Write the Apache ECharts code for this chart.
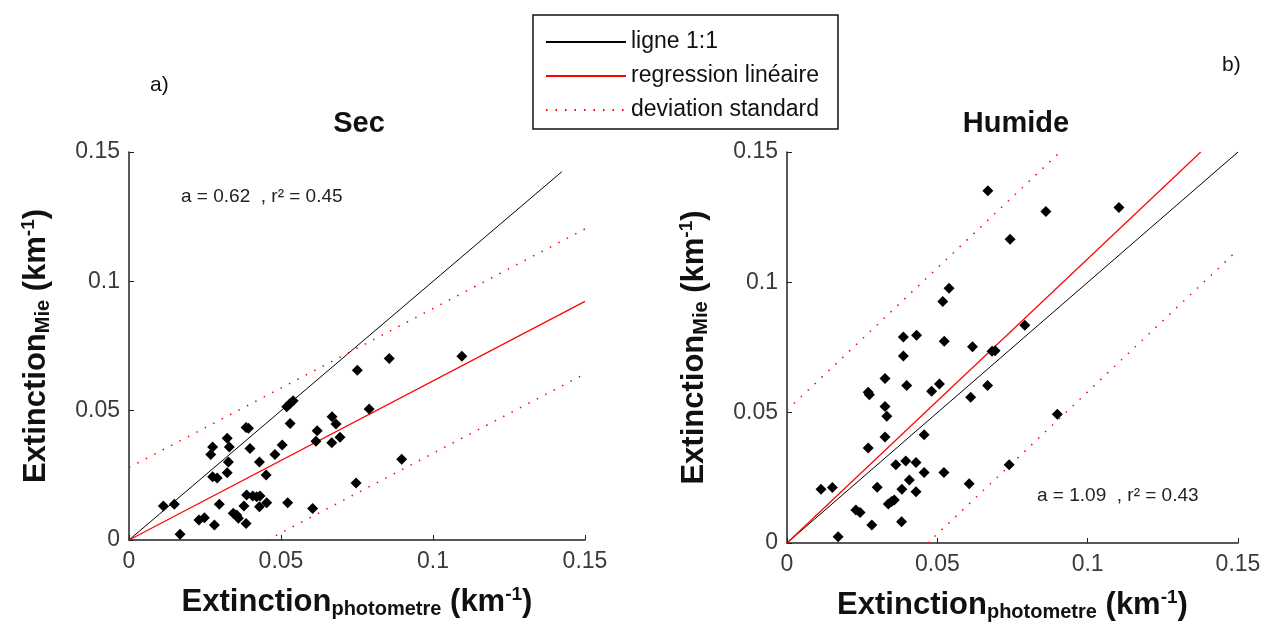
<!doctype html>
<html>
<head>
<meta charset="utf-8">
<title>Extinction Mie vs photometre</title>
<style>
  html, body { margin: 0; width: 100%; height: 100%; background: #fff; }
  #chart { width: 1264px; height: 632px; }
</style>
</head>
<body>
<div id="chart"></div>
<script src="https://cdn.jsdelivr.net/npm/echarts@6/dist/echarts.min.js"></script>
<script>
// donnees
var secX = [0.0113,0.0149,0.0168,0.023,0.0248,0.0281,0.0297,0.0275,0.0269,0.0275,0.029,0.0323,0.033,0.0327,0.0323,0.0385,0.0393,0.0398,0.0429,0.0451,0.048,0.0504,0.053,0.0519,0.053,0.054,0.0343,0.0354,0.036,0.0385,0.0378,0.0387,0.0407,0.042,0.0429,0.0431,0.0453,0.0522,0.0604,0.0615,0.0856,0.0751,0.079,0.0668,0.0681,0.0619,0.0667,0.0694,0.0897,0.0747,0.1095];
var secY = [0.0131,0.0138,0.0022,0.0077,0.0086,0.0058,0.0138,0.036,0.0331,0.0245,0.024,0.0393,0.036,0.0302,0.026,0.0435,0.0432,0.0354,0.0302,0.0251,0.0331,0.0367,0.045,0.0515,0.0528,0.0538,0.0103,0.0097,0.0084,0.0064,0.0131,0.0174,0.017,0.0167,0.0129,0.017,0.0144,0.0144,0.0122,0.0382,0.0702,0.0656,0.0506,0.0476,0.0448,0.0422,0.0376,0.0397,0.0312,0.022,0.071];
var humX = [0.0668,0.0539,0.0518,0.0387,0.0431,0.0523,0.0617,0.0682,0.0692,0.0387,0.0742,0.0861,0.1104,0.0791,0.0899,0.0326,0.0398,0.027,0.0274,0.0481,0.0507,0.0667,0.0611,0.0326,0.0332,0.0326,0.0456,0.027,0.0362,0.0395,0.0429,0.0456,0.0522,0.0407,0.03,0.0382,0.0429,0.0113,0.0151,0.0337,0.0348,0.0357,0.0229,0.0243,0.0282,0.0381,0.017,0.0606,0.0739];
var humY = [0.1351,0.0977,0.0926,0.079,0.0797,0.0774,0.0753,0.0736,0.0738,0.0717,0.1165,0.1272,0.1287,0.0835,0.0494,0.0631,0.0604,0.0578,0.0569,0.0582,0.061,0.0604,0.0559,0.0524,0.0486,0.0407,0.0415,0.0364,0.03,0.0315,0.0309,0.027,0.027,0.0242,0.0214,0.0206,0.0197,0.0206,0.0213,0.015,0.0159,0.0165,0.0127,0.0117,0.0069,0.0082,0.0024,0.0227,0.03];

// droites: pente / ordonnee a l'origine / ecart
var secFit = { a: 0.615, b: 0, sd: 0.028, oneEnd: 0.1424 };
var humFit = { a: 1.09, b: 0, sd: 0.051, oneEnd: 0.15 };

var MAX = 0.15;

function pairs(xs, ys) {
  return xs.map(function (x, i) { return [x, ys[i]]; });
}
// segment y = a*x + b coupe dans le carre [0, MAX]
function seg(a, b) {
  var x0 = Math.max(0, -b / a), x1 = Math.min(MAX, (MAX - b) / a);
  return [[x0, a * x0 + b], [x1, a * x1 + b]];
}

var tickFont = { fontFamily: 'Liberation Sans', fontSize: 23, color: '#3a3a3a' };
var nameRich = {
  b: { fontFamily: 'Liberation Sans', fontSize: 31, fontWeight: 'bold', color: '#111', lineHeight: 34, verticalAlign: 'middle' },
  s: { fontFamily: 'Liberation Sans', fontSize: 20, fontWeight: 'bold', color: '#111', lineHeight: 20, verticalAlign: 'bottom' },
  p: { fontFamily: 'Liberation Sans', fontSize: 19, fontWeight: 'bold', color: '#111', lineHeight: 20, verticalAlign: 'top' }
};

function xAxis(i) {
  return {
    type: 'value', gridIndex: i, min: 0, max: MAX, interval: 0.05,
    name: '{b|Extinction}{s|photometre}{b| (km}{p|-1}{b|)}',
    nameLocation: 'middle', nameGap: 45,
    nameTextStyle: { rich: nameRich, lineHeight: 54 },
    axisLine: { show: true, onZero: false, lineStyle: { color: '#222', width: 1.5 } },
    axisTick: { inside: true, length: 5, lineStyle: { color: '#222' } },
    axisLabel: Object.assign({ margin: 10 }, tickFont),
    splitLine: { show: false }
  };
}
function yAxis(i) {
  return {
    type: 'value', gridIndex: i, min: 0, max: MAX, interval: 0.05,
    name: '{b|Extinction}{s|Mie}{b| (km}{p|-1}{b|)}',
    nameLocation: 'middle', nameGap: 76,
    nameTextStyle: { rich: nameRich, lineHeight: 54 },
    axisLine: { show: true, onZero: false, lineStyle: { color: '#222', width: 1.5 } },
    axisTick: { inside: true, length: 5, lineStyle: { color: '#222' } },
    axisLabel: Object.assign({ margin: 9 }, tickFont),
    splitLine: { show: false }
  };
}

var dotted = { color: '#ff0000', width: 1.5, type: [1.5, 8] };
function linesFor(i, fit) {
  return [
    { name: 'ligne 1:1', type: 'line', xAxisIndex: i, yAxisIndex: i, symbol: 'none', silent: true,
      itemStyle: { color: '#000' }, lineStyle: { color: '#000', width: 1 }, data: [[0, 0], [fit.oneEnd, fit.oneEnd]] },
    { name: 'regression linéaire', type: 'line', xAxisIndex: i, yAxisIndex: i, symbol: 'none', silent: true,
      itemStyle: { color: '#ff0000' }, lineStyle: { color: '#ff0000', width: 1.2 }, data: seg(fit.a, fit.b) },
    { name: 'deviation standard', type: 'line', xAxisIndex: i, yAxisIndex: i, symbol: 'none', silent: true,
      itemStyle: { color: '#ff0000' }, lineStyle: dotted, data: seg(fit.a, fit.b + fit.sd) },
    { name: 'deviation standard', type: 'line', xAxisIndex: i, yAxisIndex: i, symbol: 'none', silent: true,
      itemStyle: { color: '#ff0000' }, lineStyle: dotted, data: seg(fit.a, fit.b - fit.sd) }
  ];
}
function dots(i, xs, ys) {
  return { name: 'points', type: 'scatter', xAxisIndex: i, yAxisIndex: i, symbol: 'diamond', symbolSize: 11,
    itemStyle: { color: '#000', opacity: 1 }, data: pairs(xs, ys), z: 5 };
}

var chart = echarts.init(document.getElementById('chart'));
var txt = { fontFamily: 'Liberation Sans', color: '#111', fontWeight: 'normal' };
chart.setOption({
  animation: false,
  backgroundColor: '#fff',
  title: [
    { text: 'Sec', left: 354, top: 104, textAlign: 'center', textStyle: Object.assign({}, txt, { fontSize: 29, fontWeight: 'bold' }) },
    { text: 'Humide', left: 1011, top: 104, textAlign: 'center', textStyle: Object.assign({}, txt, { fontSize: 29, fontWeight: 'bold' }) },
    { text: 'a)', left: 145, top: 70, textStyle: Object.assign({}, txt, { fontSize: 21 }) },
    { text: 'b)', left: 1217, top: 50, textStyle: Object.assign({}, txt, { fontSize: 21 }) },
    { text: 'a = 0.62  , r² = 0.45', left: 176, top: 182, textStyle: Object.assign({}, txt, { fontSize: 19, color: '#222' }) },
    { text: 'a = 1.09  , r² = 0.43', left: 1032, top: 481, textStyle: Object.assign({}, txt, { fontSize: 19, color: '#222' }) }
  ],
  legend: {
    left: 533, top: 15, orient: 'vertical', itemGap: 10, itemWidth: 80, itemHeight: 14,
    padding: [15, 19, 7, 12],
    borderColor: '#111', borderWidth: 1.5, backgroundColor: '#fff',
    itemStyle: { opacity: 0 },
    data: ['ligne 1:1', 'regression linéaire', 'deviation standard'],
    textStyle: { fontFamily: 'Liberation Sans', fontSize: 23, color: '#111', lineHeight: 24 }
  },
  grid: [
    { left: 129, top: 152, width: 456, height: 388 },
    { left: 787, top: 152, width: 451, height: 391 }
  ],
  xAxis: [xAxis(0), xAxis(1)],
  yAxis: [yAxis(0), yAxis(1)],
  series: linesFor(0, secFit).concat([dots(0, secX, secY)])
    .concat(linesFor(1, humFit)).concat([dots(1, humX, humY)])
});
</script>
</body>
</html>
